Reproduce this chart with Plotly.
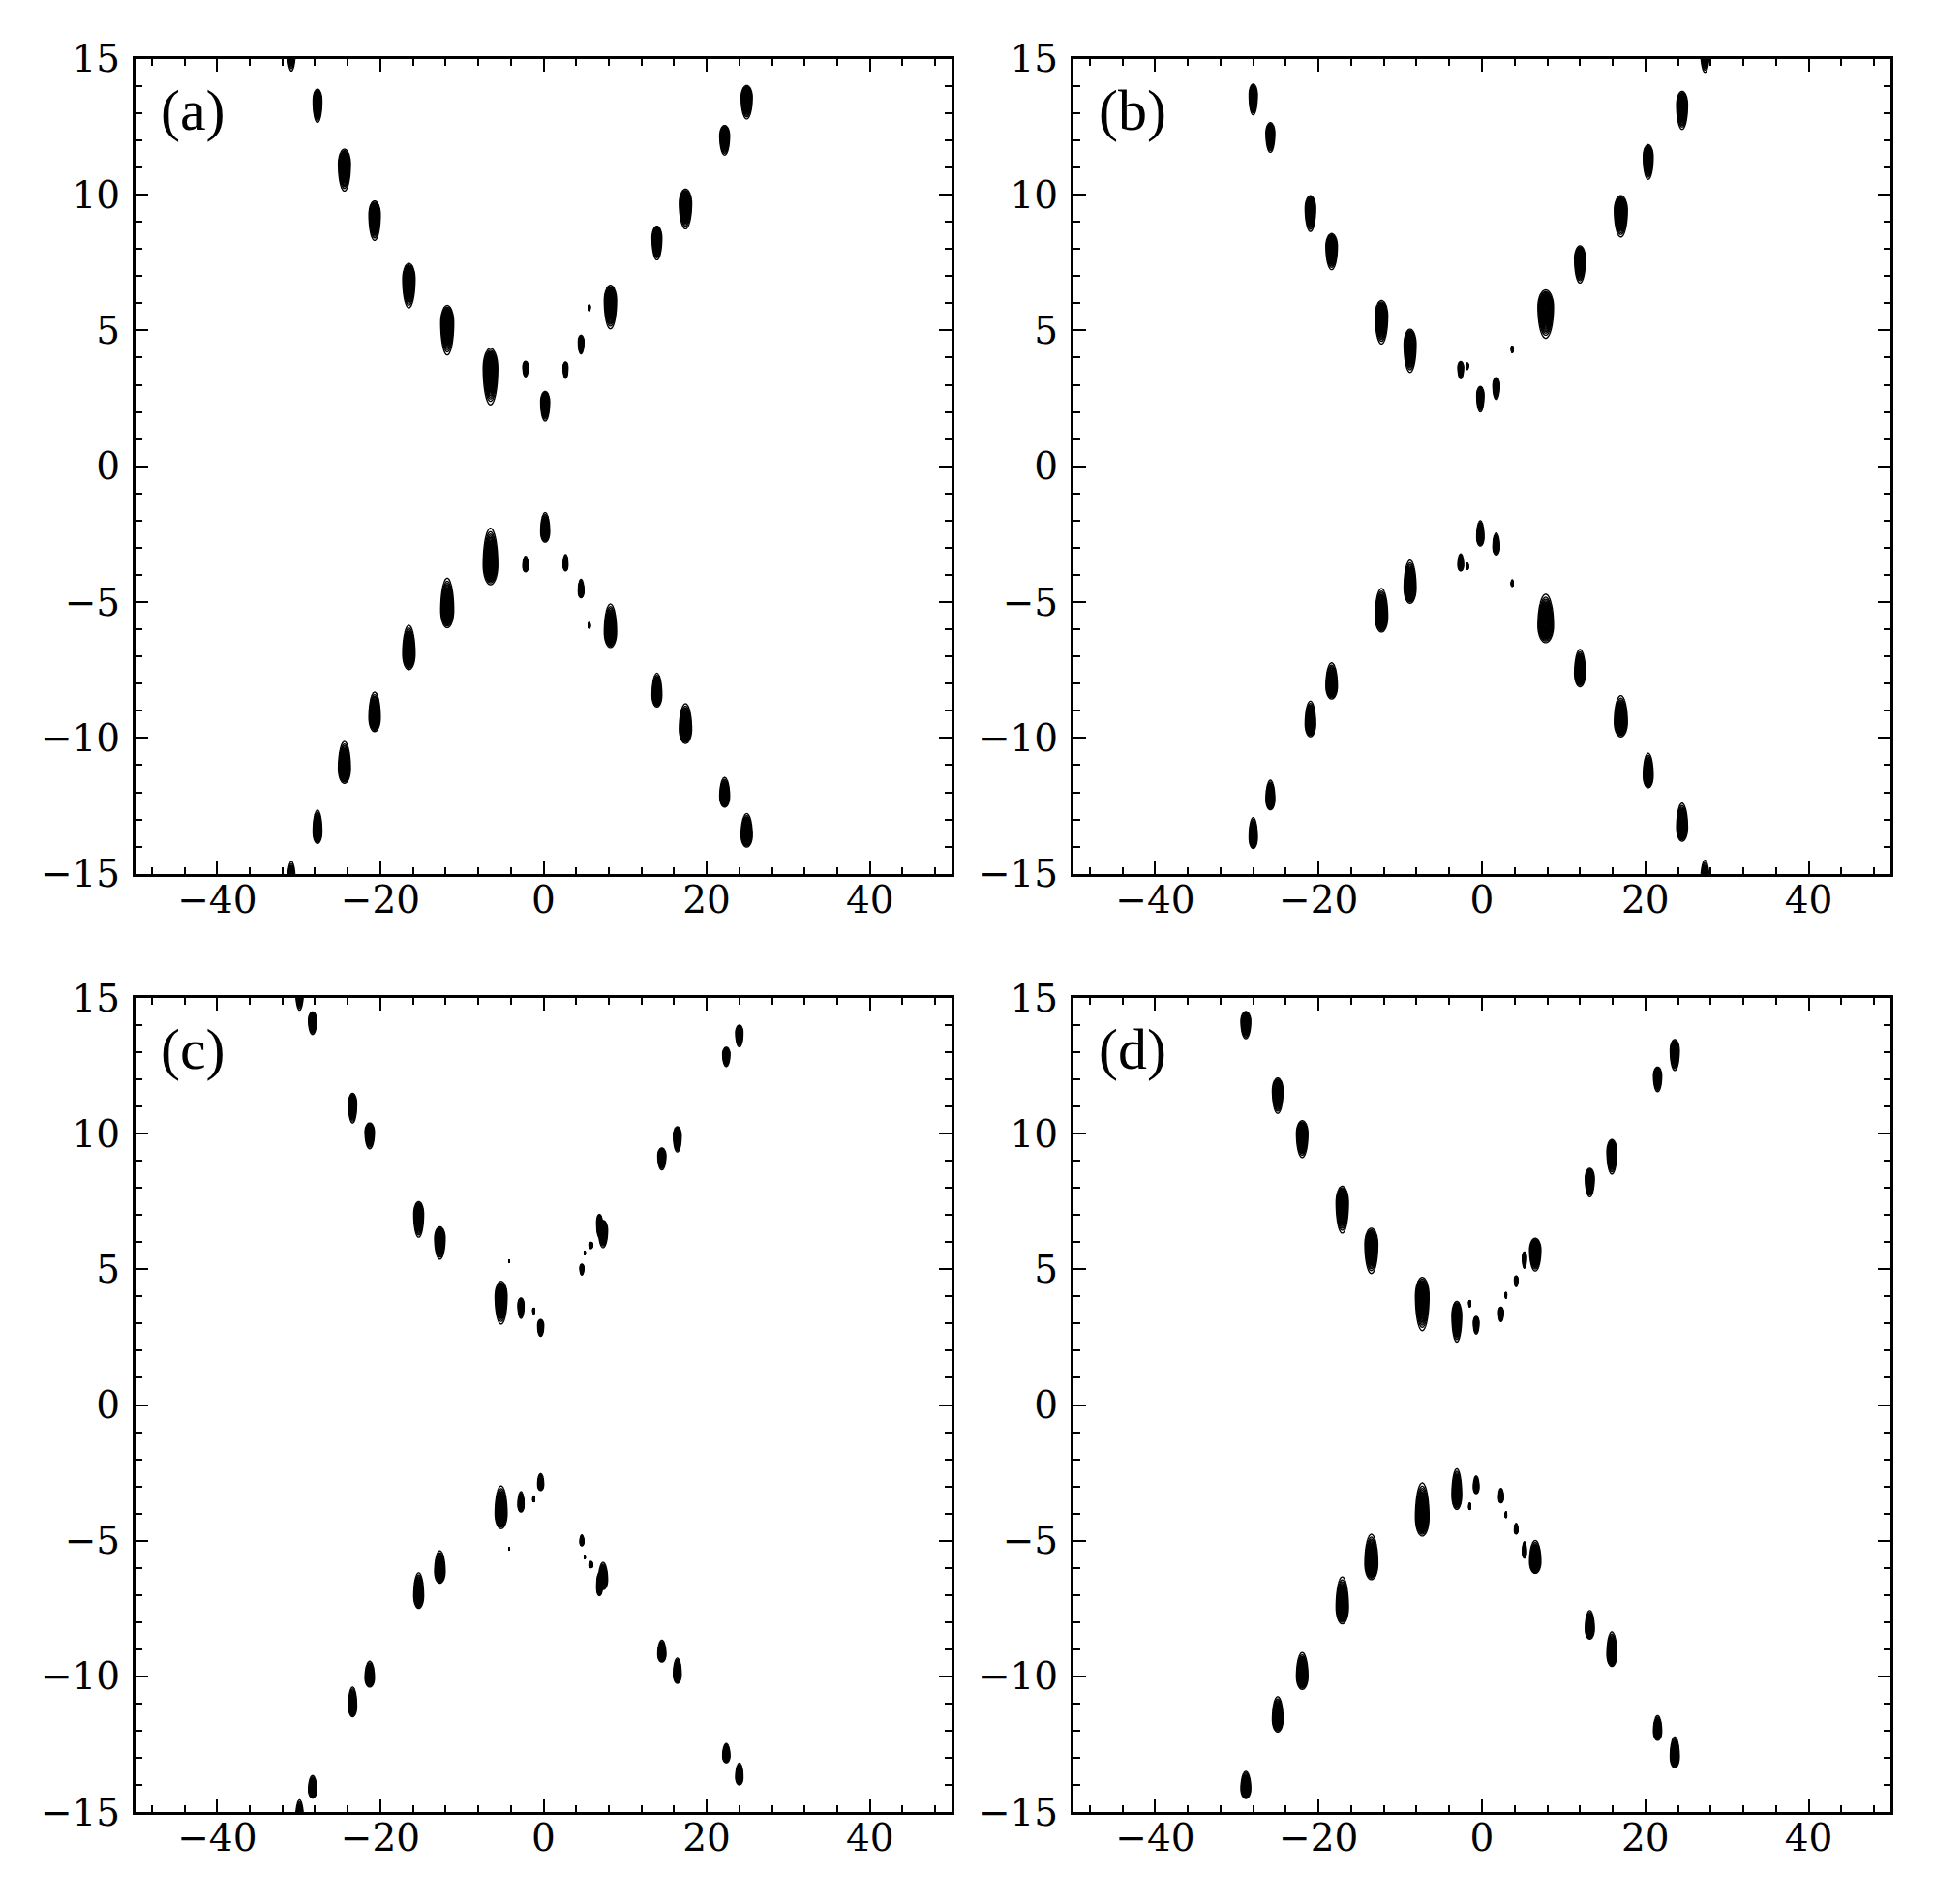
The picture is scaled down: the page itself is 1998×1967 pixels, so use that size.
import numpy as np
import plotly.graph_objects as go

# blob centres (x, y), full widths and heights
# panel (a)
a_x = [-30.9, -27.7, -24.4, -20.7, -16.5, -11.8, -6.5, -2.2, 0.2, 2.7, 4.6, 5.6, 8.2, 13.9, 17.4, 22.2, 24.9]
a_y_up = [15.25, 13.27, 10.9, 9.04, 6.65, 5.01, 3.3, 3.58, 2.21, 3.54, 4.48, 5.83, 5.86, 8.22, 9.47, 12.0, 13.4]
a_y_dn = [-15.25, -13.27, -10.9, -9.04, -6.67, -5.03, -3.32, -3.6, -2.25, -3.55, -4.5, -5.85, -5.87, -8.24, -9.47, -12.0, -13.4]
a_w = [1.0, 1.07, 1.46, 1.38, 1.5, 1.58, 1.78, 0.67, 1.1, 0.6, 0.7, 0.3, 1.5, 1.2, 1.5, 1.2, 1.36]
a_h = [1.4, 1.22, 1.54, 1.45, 1.63, 1.82, 2.08, 0.57, 1.09, 0.6, 0.68, 0.22, 1.6, 1.24, 1.46, 1.09, 1.23]

# panel (b)
b_x = [-28.0, -25.9, -21.0, -18.4, -12.3, -8.8, -2.6, -1.8, -0.2, 1.75, 3.7, 7.8, 12.0, 17.0, 20.35, 24.5, 27.3]
b_y_up = [13.5, 12.1, 9.3, 7.9, 5.3, 4.25, 3.54, 3.68, 2.47, 2.86, 4.3, 5.6, 7.43, 9.2, 11.2, 13.1, 15.2]
b_y_dn = [-13.5, -12.1, -9.3, -7.9, -5.3, -4.25, -3.54, -3.68, -2.47, -2.86, -4.3, -5.6, -7.43, -9.2, -11.2, -13.1, -15.2]
b_w = [1.0, 1.08, 1.27, 1.4, 1.52, 1.46, 0.7, 0.32, 0.89, 0.83, 0.3, 1.9, 1.33, 1.59, 1.2, 1.33, 1.08]
b_h = [1.13, 1.09, 1.31, 1.33, 1.6, 1.59, 0.63, 0.24, 0.93, 0.81, 0.24, 1.78, 1.37, 1.52, 1.27, 1.4, 1.4]

# panel (c)
c_x = [-29.9, -28.3, -23.4, -21.3, -15.3, -12.7, -4.2, -5.2, -2.76, -1.2, -0.35, 4.7, 5.05, 5.8, 6.85, 7.3, 14.5, 16.4, 22.4, 24.0]
c_y_up = [15.15, 14.07, 10.94, 9.92, 6.84, 5.97, 5.3, 3.77, 3.57, 3.46, 2.84, 4.99, 5.6, 5.88, 6.6, 6.3, 9.07, 9.79, 12.83, 13.6]
c_y_dn = [-15.15, -14.07, -10.94, -9.92, -6.84, -5.97, -5.3, -3.77, -3.57, -3.46, -2.84, -4.99, -5.6, -5.88, -6.6, -6.3, -9.07, -9.79, -12.83, -13.6]
c_w = [0.95, 1.0, 1.0, 1.14, 1.2, 1.27, 0.15, 1.46, 0.76, 0.3, 0.76, 0.5, 0.2, 0.5, 0.7, 1.1, 1.0, 0.95, 0.89, 0.89]
c_h = [1.2, 0.83, 1.09, 0.95, 1.31, 1.19, 0.1, 1.57, 0.75, 0.21, 0.62, 0.4, 0.12, 0.23, 0.85, 1.0, 0.81, 0.93, 0.71, 0.8]

# panel (d)
d_x = [-28.9, -25.0, -22.0, -17.1, -13.54, -7.31, -3.08, -1.5, -0.71, 2.33, 2.93, 4.18, 5.2, 6.52, 13.2, 15.9, 21.5, 23.6]
d_y_up = [14.0, 11.4, 9.8, 7.2, 5.68, 3.72, 3.07, 3.73, 2.94, 3.34, 4.04, 4.56, 5.34, 5.54, 8.2, 9.15, 12.0, 12.9]
d_y_dn = [-14.0, -11.4, -9.8, -7.2, -5.6, -3.85, -3.1, -3.73, -2.94, -3.34, -4.04, -4.56, -5.34, -5.6, -8.1, -9.0, -11.9, -12.8]
d_w = [1.2, 1.3, 1.4, 1.5, 1.58, 1.66, 1.19, 0.3, 0.7, 0.6, 0.25, 0.47, 0.5, 1.38, 1.1, 1.2, 1.0, 1.1]
d_h = [1.0, 1.3, 1.36, 1.73, 1.67, 1.96, 1.5, 0.24, 0.65, 0.53, 0.22, 0.39, 0.6, 1.21, 1.05, 1.27, 0.91, 1.14]

panel_labels = ["(a)", "(b)", "(c)", "(d)"]

W, H = 1998, 1967
LEVEL0 = 0.04
R0 = np.sqrt(-2 * np.log(LEVEL0))


def blob(cx, cy, w, h, xa, ya):
    # skewed gaussian peak, tail pointing towards y = 0
    sx = w / 2 / R0
    s_far = 0.35 * h / R0
    s_near = 0.65 * h / R0
    sgn = 1.0 if cy > 0 else -1.0
    py = cy + sgn * 0.15 * h
    gx = np.linspace(cx - 0.65 * w, cx + 0.65 * w, 41)
    gy = np.linspace(cy - 0.75 * h, cy + 0.75 * h, 101)
    X, Y = np.meshgrid(gx, gy)
    dy = (Y - py) * sgn
    sy = np.where(dy > 0, s_far, s_near)
    Z = np.exp(-(X - cx) ** 2 / (2 * sx ** 2)) * np.exp(-dy ** 2 / (2 * sy ** 2))
    return go.Contour(
        x=gx, y=gy, z=np.round(Z, 4),
        contours=dict(start=LEVEL0, end=0.98, size=0.032, coloring="none"),
        line=dict(color="black", width=1.4),
        showscale=False, hoverinfo="skip", xaxis=xa, yaxis=ya,
    )


panels = [
    (a_x, a_y_up, a_y_dn, a_w, a_h),
    (b_x, b_y_up, b_y_dn, b_w, b_h),
    (c_x, c_y_up, c_y_dn, c_w, c_h),
    (d_x, d_y_up, d_y_dn, d_w, d_h),
]

# axes boxes in pixels: (left, right, top, bottom)
boxes = [(140, 983, 60.7, 902.7), (1109, 1953, 60.7, 902.7),
         (140, 983, 1031, 1872), (1109, 1953, 1031, 1872)]

fig = go.Figure()
tick_font = dict(family="DejaVu Serif", size=39, color="black")
common = dict(showline=True, linewidth=3, linecolor="black", mirror="ticks",
              ticks="inside", ticklen=13, tickwidth=2.2, tickcolor="black",
              showgrid=False, zeroline=False, automargin=False, tickfont=tick_font)

for i, (px, pyu, pyd, pw, ph) in enumerate(panels):
    n = "" if i == 0 else str(i + 1)
    xa, ya = "x" + n, "y" + n
    for x, y, w, h in zip(px, pyu, pw, ph):
        fig.add_trace(blob(x, y, w, h, xa, ya))
    for x, y, w, h in zip(px, pyd, pw, ph):
        fig.add_trace(blob(x, y, w, h, xa, ya))

    l, r, t, b = boxes[i]
    fig.update_layout({
        "xaxis" + n: dict(common, domain=[l / W, r / W], range=[-50, 50], dtick=20, tick0=0,
                          anchor=ya, ticklabelstandoff=-10,
                          minor=dict(ticks="inside", ticklen=7, tickwidth=1.6, tickcolor="black", dtick=4, tick0=0)),
        "yaxis" + n: dict(common, domain=[1 - b / H, 1 - t / H], range=[-15, 15], dtick=5, tick0=0,
                          anchor=xa, ticklabelstandoff=5,
                          minor=dict(ticks="inside", ticklen=7, tickwidth=1.6, tickcolor="black", dtick=1, tick0=0)),
    })
    fig.add_annotation(text=panel_labels[i], xref=xa + " domain", yref=ya + " domain",
                       x=0.028, y=0.937, xanchor="left", yanchor="middle", showarrow=False,
                       font=dict(family="Liberation Serif", size=60, color="black"))

fig.update_layout(width=W, height=H, margin=dict(l=0, r=0, t=0, b=0, autoexpand=False),
                  plot_bgcolor="white", paper_bgcolor="white", showlegend=False)

pin = ("document.body.style.margin='0';document.body.style.overflow='hidden';"
       "var gd=document.getElementById('{plot_id}');"
       "gd.style.position='fixed';gd.style.top='0px';gd.style.left='0px';")
fig.write_html("out.html", post_script=pin, config={"displayModeBar": False})
